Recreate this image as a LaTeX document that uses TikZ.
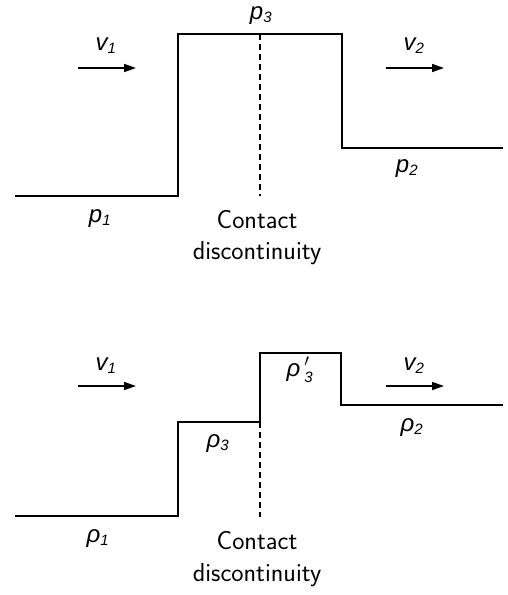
\documentclass[tikz,border=0pt]{standalone}
\usepackage{fontspec}
\usetikzlibrary{arrows.meta}
\newfontfamily\labfont{Liberation Sans}[ItalicFont={Liberation Sans Italic}]
\newcommand\lbl[2]{{\labfont\itshape\fontsize{24}{28}\selectfont #1$_{\mbox{\labfont\itshape\fontsize{15}{15}\selectfont #2}}$}}
\newcommand\lblp[2]{{\labfont\itshape\fontsize{24}{28}\selectfont #1\,$^{\prime}_{\mbox{\labfont\itshape\fontsize{15}{15}\selectfont #2}}$}}
\begin{document}
\begin{tikzpicture}[x=1pt,y=-1pt,
  prof/.style={line width=2pt,line join=miter},
  cdash/.style={line width=1.6pt,dash pattern=on 6pt off 4pt},
  flow/.style={line width=1.6pt,-{Triangle[length=12pt,width=8pt]}},
  lab/.style={inner sep=0pt,anchor=base},
  txt/.style={inner sep=0pt,font=\sffamily\fontsize{26}{30}\selectfont}]
\useasboundingbox (0,0) rectangle (508,595);
% top profile
\draw[prof] (15,196) -- (178,196) -- (178,34) -- (342,34) -- (342,148) -- (503,148);
\draw[cdash] (260,34) -- (260,196);
\coordinate (a1s) at (78,68); \coordinate (a1e) at (136,68);
\coordinate (a2s) at (386,68); \coordinate (a2e) at (444,68);
\draw[flow] (a1s) -- (a1e);
\draw[flow] (a2s) -- (a2e);
\node[lab] (v1t) at (106,50) {\lbl{v}{1}};
\node[lab] (v2t) at (414,50) {\lbl{v}{2}};
\node[lab] (p3) at (261,19) {\lbl{p}{3}};
\node[lab] (p1) at (100,222) {\lbl{p}{1}};
\node[lab] (p2) at (407,172) {\lbl{p}{2}};
\node[txt] (c1) at (257,220) {Contact};
\node[txt] (d1) at (257,253) {discontinuity};
% bottom profile
\draw[prof] (15,516) -- (178,516) -- (178,422) -- (260,422) -- (260,353) -- (341,353) -- (341,405) -- (503,405);
\draw[cdash] (260,422) -- (260,517);
\coordinate (b1s) at (78,386); \coordinate (b1e) at (136,386);
\coordinate (b2s) at (386,386); \coordinate (b2e) at (444,386);
\draw[flow] (b1s) -- (b1e);
\draw[flow] (b2s) -- (b2e);
\node[lab] (v1b) at (106,370) {\lbl{v}{1}};
\node[lab] (v2b) at (414,370) {\lbl{v}{2}};
\node[lab] (r3p) at (300,376) {\lblp{ρ}{3}};
\node[lab] (r3) at (218,447) {\lbl{ρ}{3}};
\node[lab] (r2) at (412,431) {\lbl{ρ}{2}};
\node[lab] (r1) at (98,542) {\lbl{ρ}{1}};
\node[txt] (c2) at (257,541) {Contact};
\node[txt] (d2) at (257,575) {discontinuity};
\end{tikzpicture}
\end{document}
